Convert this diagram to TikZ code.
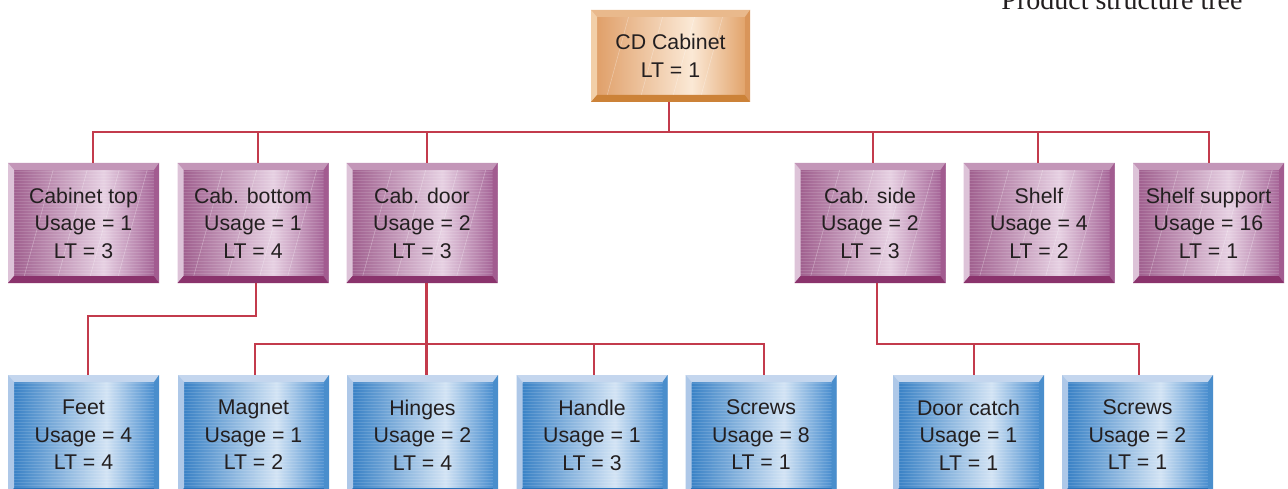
\documentclass[tikz,border=0pt]{standalone}
\usepackage{fontspec}
\setmainfont{Liberation Sans}
\newfontfamily\serifttl{Liberation Serif}
\usetikzlibrary{calc}

\definecolor{txt}{HTML}{231F20}
\definecolor{linkred}{HTML}{C33B4C}
% purple
\definecolor{pA}{HTML}{A0608F}
\definecolor{pB}{HTML}{E6D0E2}
\definecolor{pC}{HTML}{A66698}
\definecolor{ptop}{HTML}{C396B8}
\definecolor{pleft}{HTML}{DDC3D8}
\definecolor{pright}{HTML}{A25C90}
\definecolor{pbot}{HTML}{8A336C}
% blue
\definecolor{bA}{HTML}{3A82C6}
\definecolor{bB}{HTML}{D2E3F4}
\definecolor{bC}{HTML}{4A8ECF}
\definecolor{btop}{HTML}{C4D6EE}
\definecolor{bleft}{HTML}{AEC8E8}
\definecolor{bright}{HTML}{4A8ECC}
\definecolor{bbot}{HTML}{2C72B8}
% orange
\definecolor{oA}{HTML}{E0A06A}
\definecolor{oB}{HTML}{FBE9D6}
\definecolor{oC}{HTML}{E2A46C}
\definecolor{otop}{HTML}{E9B98C}
\definecolor{oleft}{HTML}{F2CFA8}
\definecolor{oright}{HTML}{D9955A}
\definecolor{obot}{HTML}{CC8238}

\pgfdeclarehorizontalshading{pshade}{100bp}{color(0bp)=(pA); color(25bp)=(pA); color(57bp)=(pB); color(75bp)=(pC); color(100bp)=(pC)}
\pgfdeclarehorizontalshading{bshade}{100bp}{color(0bp)=(bA); color(25bp)=(bA); color(58bp)=(bB); color(75bp)=(bC); color(100bp)=(bC)}
\pgfdeclarehorizontalshading{oshade}{100bp}{color(0bp)=(oA); color(25bp)=(oA); color(57bp)=(oB); color(75bp)=(oC); color(100bp)=(oC)}

\newcommand\hstripes{%
  \foreach \k in {2,5,...,122}{\draw[white,opacity=.13,line width=.5pt] ($(ppnw)+(0,\k)$) -- ++(170,0);}}
\newcommand\diagstreaks{%
  \foreach \d in {16,50,82,110}{\draw[white,opacity=.35,line width=.5pt] ($(ppsw)+(\d,-6)$) -- ++(30,-110);}}

\tikzset{
  box/.style n args={6}{rectangle, inner sep=0pt, minimum width=151pt, minimum height=120pt,
    align=center, font=\fontsize{21.3}{27.5}\selectfont, text=txt, fill=#2,
    path picture={
      \coordinate (ppnw) at (path picture bounding box.north west);
      \coordinate (ppne) at (path picture bounding box.north east);
      \coordinate (ppsw) at (path picture bounding box.south west);
      \coordinate (ppse) at (path picture bounding box.south east);
      \shade[shading=#1] ($(ppnw)+(6,7)$) rectangle ($(ppse)+(-5,-7)$);
      #6
      \fill[#2] (ppnw) -- (ppne) -- ($(ppne)+(-5,7)$) -- ($(ppnw)+(6,7)$) -- cycle;
      \fill[#3] (ppnw) -- ($(ppnw)+(6,7)$) -- ($(ppsw)+(6,-7)$) -- (ppsw) -- cycle;
      \fill[#4] (ppne) -- (ppse) -- ($(ppse)+(-5,-7)$) -- ($(ppne)+(-5,7)$) -- cycle;
      \fill[#5] (ppsw) -- (ppse) -- ($(ppse)+(-5,-7)$) -- ($(ppsw)+(6,-7)$) -- cycle;
    }},
  pbox/.style={box={pshade}{ptop}{pleft}{pright}{pbot}{\hstripes\diagstreaks}},
  bbox/.style={box={bshade}{btop}{bleft}{bright}{bbot}{\hstripes}},
  obox/.style={box={oshade}{otop}{oleft}{oright}{obot}{\diagstreaks}, minimum width=159pt, minimum height=92pt},
  link/.style={draw=linkred, line width=2.3pt, line join=miter},
}

\begin{document}
\begin{tikzpicture}[x=1pt,y=-1pt]
\useasboundingbox (0,0) rectangle (1288,489);
\fill[white] (0,0) rectangle (1288,489);

\node[anchor=base east, font=\serifttl\fontsize{28}{30}\selectfont, text=txt] (title) at (1246,10) {Product structure tree};

% level 0
\node[obox] (cd) at (670.5,56) {CD Cabinet\\LT = 1};

% level 1
\node[pbox] (ctop)  at (83.5,223)  {Cabinet top\\Usage = 1\\LT = 3};
\node[pbox] (cbot)  at (253,223)   {Cab. bottom\\Usage = 1\\LT = 4};
\node[pbox] (cdoor) at (422,223)   {Cab. door\\Usage = 2\\LT = 3};
\node[pbox] (cside) at (870,223)   {Cab. side\\Usage = 2\\LT = 3};
\node[pbox] (shelf) at (1039,223)  {Shelf\\Usage = 4\\LT = 2};
\node[pbox] (ssup)  at (1208.5,223){Shelf support\\Usage = 16\\LT = 1};

% level 2
\node[bbox] (feet)    at (83.5,435)  {Feet\\Usage = 4\\LT = 4};
\node[bbox] (magnet)  at (253.5,435) {Magnet\\Usage = 1\\LT = 2};
\node[bbox] (hinges)  at (422.5,435) {Hinges\\Usage = 2\\LT = 4};
\node[bbox] (handle)  at (592,435)   {Handle\\Usage = 1\\LT = 3};
\node[bbox] (screws)  at (761,435)   {Screws\\Usage = 8\\LT = 1};
\node[bbox] (dcatch)  at (968.5,435) {Door catch\\Usage = 1\\LT = 1};
\node[bbox] (screwsb) at (1137.5,435){Screws\\Usage = 2\\LT = 1};

% bus levels
\coordinate (busA) at (0,132);
\coordinate (busB) at (0,316);
\coordinate (busC) at (0,344);

% level 0 -> 1
\draw[link] ([xshift=-1.5pt]cd.south) -- ([xshift=-1.5pt]cd.south |- busA);
\draw[link] ([xshift=9.5pt]ctop.north) |- ([xshift=.5pt]ssup.north |- busA) -- ([xshift=.5pt]ssup.north);
\draw[link] ([xshift=5pt]cbot.north) -- ([xshift=5pt]cbot.north |- busA);
\draw[link] ([xshift=5pt]cdoor.north) -- ([xshift=5pt]cdoor.north |- busA);
\draw[link] ([xshift=3pt]cside.north) -- ([xshift=3pt]cside.north |- busA);
\draw[link] ([xshift=-1pt]shelf.north) -- ([xshift=-1pt]shelf.north |- busA);

% cab. bottom -> feet
\draw[link] ([xshift=3pt]cbot.south) -- ([xshift=3pt]cbot.south |- busB) -| ([xshift=4.5pt]feet.north);

% cab. door -> magnet, hinges, handle, screws
\draw[link] ([xshift=4.5pt]cdoor.south) -- ([xshift=4.5pt]cdoor.south |- hinges.north);
\draw[link] ([xshift=1.5pt]magnet.north) |- ([xshift=3pt]screws.north |- busC) -- ([xshift=3pt]screws.north);
\draw[link] ([xshift=2pt]handle.north) -- ([xshift=2pt]handle.north |- busC);

% cab. side -> door catch, screws
\draw[link] ([xshift=7pt]cside.south) |- ([xshift=1.5pt]screwsb.north |- busC) -- ([xshift=1.5pt]screwsb.north);
\draw[link] ([xshift=5.5pt]dcatch.north) -- ([xshift=5.5pt]dcatch.north |- busC);
\end{tikzpicture}
\end{document}
